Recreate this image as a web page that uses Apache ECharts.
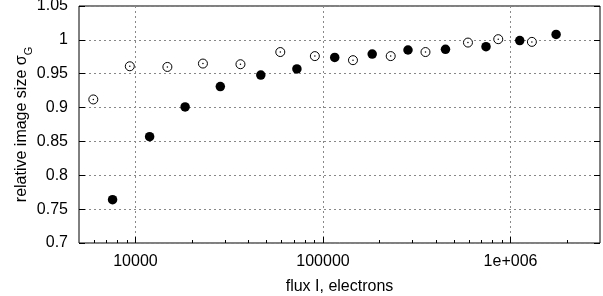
<!DOCTYPE html>
<html>
<head>
<meta charset="utf-8">
<script src="https://cdn.jsdelivr.net/npm/echarts@6/dist/echarts.min.js"></script>
<style>html,body{margin:0;padding:0;background:#fff}#c{width:603px;height:296px}</style>
</head>
<body>
<div id="c"></div>
<script>
// Open circles series
const openFlux = [5960, 9330, 14800, 22900, 36300, 59200, 90500, 144500, 229700, 352000, 593000, 860000, 1300000];
const openSize = [0.912, 0.961, 0.960, 0.965, 0.964, 0.982, 0.976, 0.970, 0.976, 0.982, 0.996, 1.001, 0.997];
// Filled circles series
const filledFlux = [7550, 11900, 18400, 28350, 46600, 72600, 115500, 183000, 284000, 450000, 740000, 1120000, 1750000];
const filledSize = [0.764, 0.857, 0.901, 0.931, 0.948, 0.957, 0.974, 0.979, 0.985, 0.986, 0.990, 0.999, 1.008];
// Axis ticks
const xMajorTicks = [10000, 100000, 1000000];
const xMinorTicks = [6000, 7000, 8000, 9000, 20000, 30000, 40000, 50000, 60000, 70000, 80000, 90000,
  200000, 300000, 400000, 500000, 600000, 700000, 800000, 900000, 2000000];
const xMin = 5000, xMax = 3000000;
const yMin = 0.7, yMax = 1.05, yStep = 0.05;

const font = 'Liberation Sans, Arial, Helvetica, sans-serif';
const chart = echarts.init(document.getElementById('c'), null, {renderer: 'canvas'});

function fmtX(v) {
  if (v >= 1000000) {
    const e = Math.round(Math.log10(v));
    return '1e+' + String(e).padStart(3, '0');
  }
  return String(Math.round(v));
}

chart.setOption({
  animation: false,
  backgroundColor: '#fff',
  grid: {left: 79, right: 3, top: 6, bottom: 53, show: true, borderColor: '#000', borderWidth: 1,
    backgroundColor: 'transparent', containLabel: false, outerBoundsMode: 'none'},
  xAxis: [{
    type: 'log', logBase: 10, min: xMin, max: xMax,
    name: 'flux I, electrons', nameLocation: 'middle', nameGap: 36, nameMoveOverlap: false,
    nameTextStyle: {fontFamily: font, fontSize: 16, color: '#000'},
    axisLine: {show: false},
    axisTick: {show: true, inside: true, length: 6, lineStyle: {color: '#000', width: 1}, customValues: xMajorTicks},
    axisLabel: {show: true, color: '#000', fontFamily: font, fontSize: 16, margin: 11, customValues: xMajorTicks, formatter: fmtX},
    splitLine: {show: true, lineStyle: {color: '#888', type: [2, 3], width: 1}},
    minorTick: {show: false}
  }, {
    type: 'log', logBase: 10, min: xMin, max: xMax, position: 'bottom',
    axisLine: {show: false},
    axisTick: {show: true, inside: true, length: 3, lineStyle: {color: '#000', width: 1}, customValues: xMinorTicks},
    axisLabel: {show: false},
    splitLine: {show: false}
  }],
  yAxis: [{
    type: 'value', min: yMin, max: yMax, interval: yStep, position: 'left',
    name: '{m|relative image size σ}{s|G}', nameLocation: 'middle', nameGap: 49, nameMoveOverlap: false,
    nameTextStyle: {
      fontFamily: font, fontSize: 16, color: '#000',
      rich: {
        m: {fontFamily: font, fontSize: 16, color: '#000', lineHeight: 20, verticalAlign: 'bottom'},
        s: {fontFamily: font, fontSize: 11, color: '#000', lineHeight: 20, verticalAlign: 'bottom', padding: [0, 0, -4, 0]}
      }
    },
    axisLine: {show: false},
    axisTick: {show: true, inside: true, length: 6, lineStyle: {color: '#000', width: 1}},
    axisLabel: {color: '#000', fontFamily: font, fontSize: 16, margin: 11},
    splitLine: {show: true, lineStyle: {color: '#888', type: [2, 3], width: 1}}
  }, {
    type: 'value', min: yMin, max: yMax, interval: yStep, position: 'right',
    axisLine: {show: false},
    axisTick: {show: true, inside: true, length: 6, lineStyle: {color: '#000', width: 1}},
    axisLabel: {show: false},
    splitLine: {show: false}
  }],
  series: [{
    type: 'scatter', xAxisIndex: 0, yAxisIndex: 0,
    data: openFlux.map((x, i) => [x, openSize[i]]),
    symbol: 'circle', symbolSize: 9,
    itemStyle: {color: '#fff', borderColor: '#000', borderWidth: 1, opacity: 1},
    z: 3
  }, {
    type: 'scatter', xAxisIndex: 0, yAxisIndex: 0,
    data: openFlux.map((x, i) => [x, openSize[i]]),
    symbol: 'circle', symbolSize: 1.5, silent: true,
    itemStyle: {color: '#000', opacity: 1},
    z: 4
  }, {
    type: 'scatter', xAxisIndex: 0, yAxisIndex: 0,
    data: filledFlux.map((x, i) => [x, filledSize[i]]),
    symbol: 'circle', symbolSize: 9.5,
    itemStyle: {color: '#000', opacity: 1},
    z: 3
  }]
});
</script>
</body>
</html>
